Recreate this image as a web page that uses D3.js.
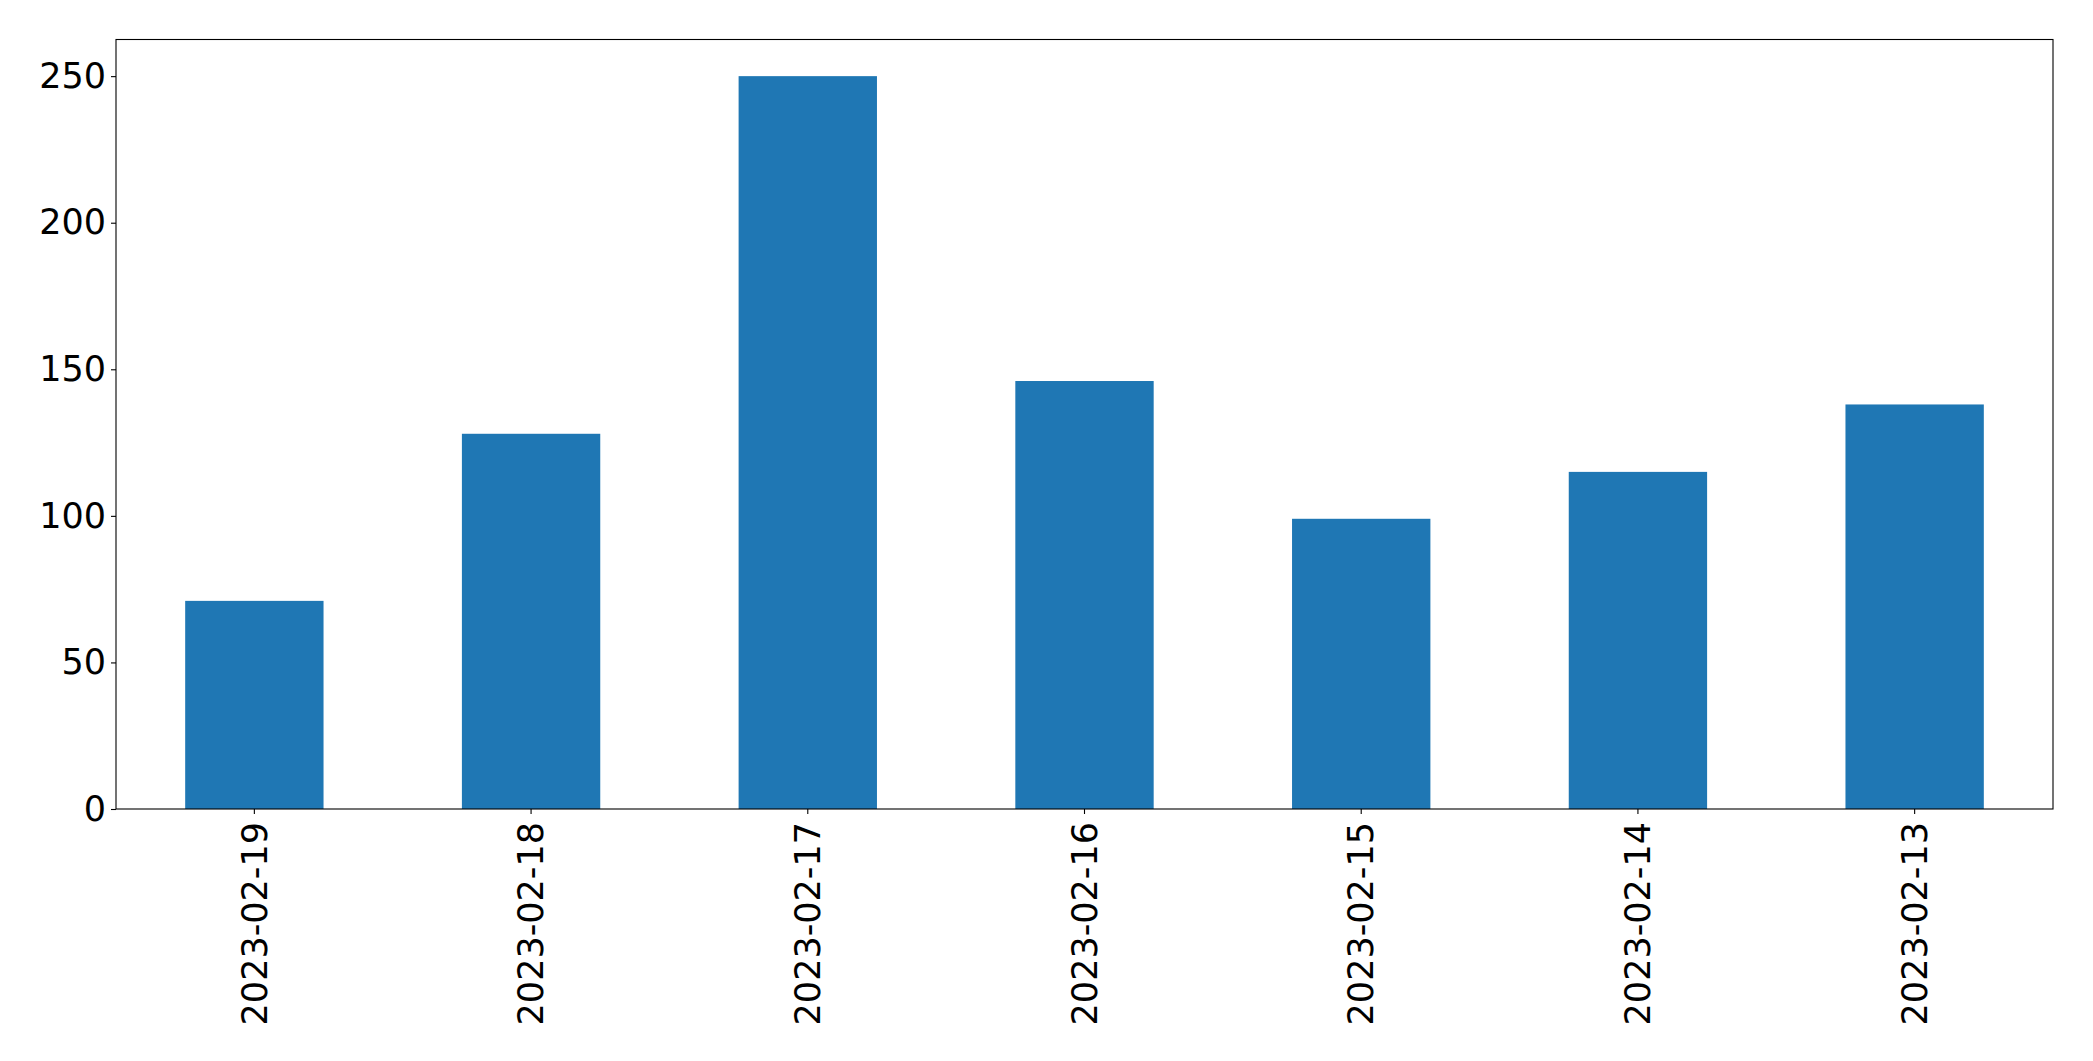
<!DOCTYPE html>
<html>
<head>
<meta charset="utf-8">
<script src="https://cdn.jsdelivr.net/npm/d3@7"></script>
<style>
  html, body { margin: 0; padding: 0; background: #fff; }
  svg { display: block; }
</style>
</head>
<body>
<svg id="chart" width="2093" height="1061"></svg>
<script>
const categories = ["2023-02-19", "2023-02-18", "2023-02-17", "2023-02-16", "2023-02-15", "2023-02-14", "2023-02-13"];
const values = [71, 128, 250, 146, 99, 115, 138];
const yTicks = [0, 50, 100, 150, 200, 250];

const W = 2093, H = 1061;
const margin = { left: 116, right: 2053, top: 39.5, bottom: 809 };
const fontFamily = "'DejaVu Sans', sans-serif";
const fontSize = 35;

const svg = d3.select("#chart");

const x = d3.scaleBand()
  .domain(categories)
  .range([margin.left, margin.right])
  .paddingInner(0.5)
  .paddingOuter(0.25);

const y = d3.scaleLinear()
  .domain([0, 262.5])
  .range([margin.bottom, margin.top]);

svg.append("g")
  .selectAll("rect")
  .data(values)
  .join("rect")
  .attr("x", (d, i) => x(categories[i]))
  .attr("y", d => y(d))
  .attr("width", x.bandwidth())
  .attr("height", d => y(0) - y(d))
  .attr("fill", "#1f77b4");

// frame
svg.append("rect")
  .attr("x", margin.left)
  .attr("y", margin.top)
  .attr("width", margin.right - margin.left)
  .attr("height", margin.bottom - margin.top)
  .attr("fill", "none")
  .attr("stroke", "#000")
  .attr("stroke-width", 1.1);

const yAxis = d3.axisLeft(y)
  .tickValues(yTicks)
  .tickSize(5)
  .tickPadding(5)
  .tickFormat(d3.format("d"));

const gy = svg.append("g")
  .attr("transform", `translate(${margin.left},0)`)
  .call(yAxis);
gy.select(".domain").remove();
gy.selectAll("line").attr("stroke", "#000").attr("stroke-width", 1.1);
gy.selectAll("text")
  .attr("fill", "#000")
  .style("font-family", fontFamily)
  .style("font-size", fontSize + "px");

const xAxis = d3.axisBottom(x)
  .tickSize(5)
  .tickPadding(5);

const gx = svg.append("g")
  .attr("transform", `translate(0,${margin.bottom})`)
  .call(xAxis);
gx.select(".domain").remove();
gx.selectAll("line").attr("stroke", "#000").attr("stroke-width", 1.1);
gx.selectAll("text")
  .attr("fill", "#000")
  .style("font-family", fontFamily)
  .style("font-size", fontSize + "px")
  .attr("transform", "rotate(-90)")
  .attr("x", -13)
  .attr("y", 0)
  .attr("dy", "0.35em")
  .attr("text-anchor", "end");
</script>
</body>
</html>
